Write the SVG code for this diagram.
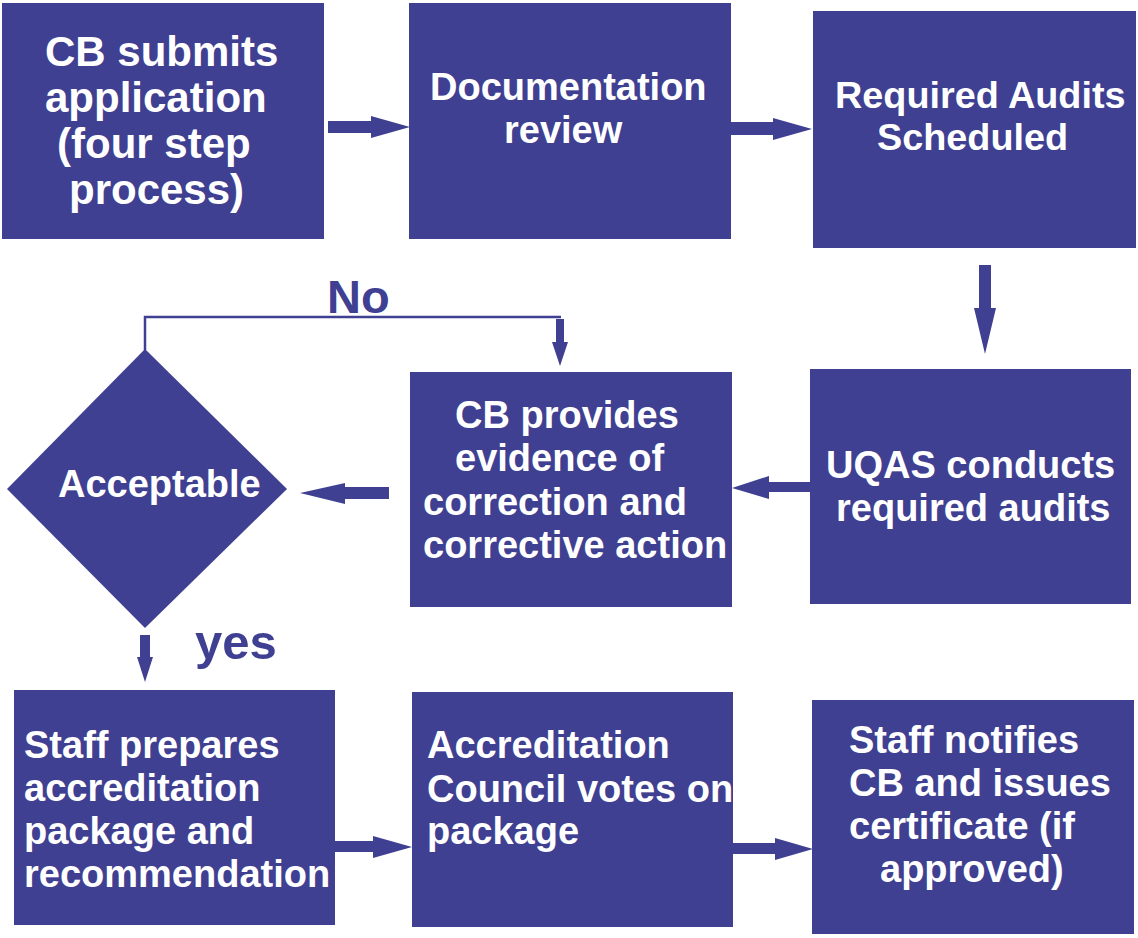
<svg xmlns="http://www.w3.org/2000/svg" width="1138" height="938" viewBox="0 0 1138 938">
<style>
.box{fill:#3F4092;}
.t{fill:#FFFFFF;font-family:"Liberation Sans",Arial,sans-serif;font-weight:bold;}
.lbl{fill:#3F4092;font-family:"Liberation Sans",Arial,sans-serif;font-weight:bold;}
.arr{fill:#3F4092;}
.ln{fill:none;stroke:#3F4092;stroke-width:2.5;}
</style>
<rect width="1138" height="938" fill="#FFFFFF"/>
<g id="connectors">
<polygon class="arr" points="328,121 371,121 371,116 410,127 371,138 371,133 328,133"/>
<polygon class="arr" points="731,122 773,122 773,118 812,129 773,140 773,135 731,135"/>
<polygon class="arr" points="979,265 991,265 991,308 996,308 985,354 974,308 979,308"/>
<polygon class="arr" points="810,482 769,482 769,476 732,488 769,499 769,492 810,492"/>
<polygon class="arr" points="389,487 345,487 345,483 300,493 345,504 345,499 389,499"/>
<path class="ln" d="M145,350 V317 H561"/>
<polygon class="arr" points="556,319 564,319 564,342 568,342 560,366 552,342 556,342"/>
<polygon class="arr" points="140,635 150,635 150,657 153,657 145,682 137,657 140,657"/>
<polygon class="arr" points="335,841 373,841 373,836 412,847 373,858 373,852 335,852"/>
<polygon class="arr" points="733,843 775,843 775,838 813,849 775,860 775,854 733,854"/>
<text class="lbl" x="327" y="313" font-size="47">No</text>
<text class="lbl" x="195" y="659" font-size="49">yes</text>
</g>
<g id="n1">
<rect class="box" x="2" y="3" width="322" height="236"/>
<text class="t" font-size="42"><tspan x="45" y="66">CB submits</tspan><tspan x="45" y="112">application</tspan><tspan x="57" y="158">(four step</tspan><tspan x="69" y="204">process)</tspan></text>
</g>
<g id="n2">
<rect class="box" x="409" y="3" width="322" height="236"/>
<text class="t" font-size="38"><tspan x="430" y="100">Documentation</tspan><tspan x="504" y="143">review</tspan></text>
</g>
<g id="n3">
<rect class="box" x="813" y="11" width="323" height="237"/>
<text class="t" font-size="37.8"><tspan x="835" y="108">Required Audits</tspan><tspan x="877" y="150">Scheduled</tspan></text>
</g>
<g id="n4">
<rect class="box" x="810" y="369" width="321" height="235"/>
<text class="t" font-size="38"><tspan x="826" y="478">UQAS conducts</tspan><tspan x="836" y="521">required audits</tspan></text>
</g>
<g id="n5">
<rect class="box" x="410" y="372" width="322" height="235"/>
<text class="t" font-size="38"><tspan x="455" y="428">CB provides</tspan><tspan x="455" y="471">evidence of</tspan><tspan x="423" y="515">correction and</tspan><tspan x="423" y="558">corrective action</tspan></text>
</g>
<g id="n6">
<polygon class="box" points="145,349 287,489 145,628 7,489"/>
<text class="t" font-size="38" x="58" y="497">Acceptable</text>
</g>
<g id="n7">
<rect class="box" x="14" y="690" width="321" height="235"/>
<text class="t" font-size="38"><tspan x="24" y="758">Staff prepares</tspan><tspan x="24" y="801">accreditation</tspan><tspan x="24" y="844">package and</tspan><tspan x="24" y="887">recommendation</tspan></text>
</g>
<g id="n8">
<rect class="box" x="412" y="692" width="321" height="235"/>
<text class="t" font-size="38"><tspan x="427" y="758">Accreditation</tspan><tspan x="427" y="802">Council votes on</tspan><tspan x="427" y="844">package</tspan></text>
</g>
<g id="n9">
<rect class="box" x="812" y="700" width="322" height="234"/>
<text class="t" font-size="38"><tspan x="849" y="753">Staff notifies</tspan><tspan x="849" y="796">CB and issues</tspan><tspan x="849" y="839">certificate (if</tspan><tspan x="880" y="882">approved)</tspan></text>
</g>
</svg>
